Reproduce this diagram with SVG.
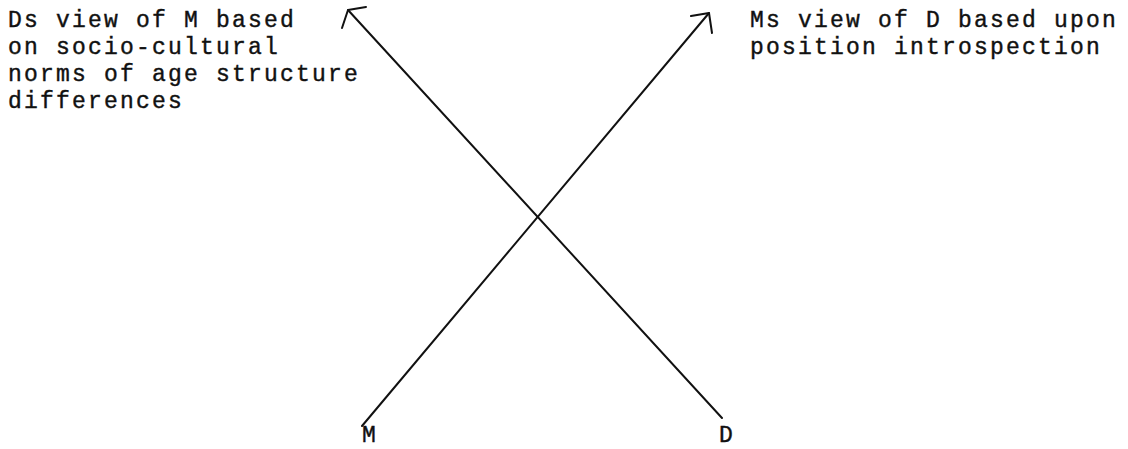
<svg xmlns="http://www.w3.org/2000/svg" width="1128" height="449" viewBox="0 0 1128 449">
<style>
.t{font-family:"Liberation Mono","Courier New",monospace;font-size:23px;letter-spacing:2.2px;fill:#111;stroke:#111;stroke-width:0.4}
.l{stroke:#111;stroke-width:2;fill:none;stroke-linecap:round;stroke-linejoin:round}
</style>
<rect width="1128" height="449" fill="#fff"/>
<g id="connectors">
<path class="l" d="M722,418 L348,10"/>
<path class="l" d="M342,28 L348,10 L366,7"/>
<path class="l" d="M362,426 L709,13"/>
<path class="l" d="M691,16 L709,13 L712,33"/>
</g>
<g id="label-D-view">
<text class="t" x="8" y="27">Ds view of M based</text>
<text class="t" x="8" y="54">on socio-cultural</text>
<text class="t" x="8" y="81">norms of age structure</text>
<text class="t" x="8" y="108">differences</text>
</g>
<g id="label-M-view">
<text class="t" x="750" y="27">Ms view of D based upon</text>
<text class="t" x="750" y="54">position introspection</text>
</g>
<g id="node-M"><text class="t" x="370" y="442" text-anchor="middle">M</text></g>
<g id="node-D"><text class="t" x="727" y="442" text-anchor="middle">D</text></g>
</svg>
